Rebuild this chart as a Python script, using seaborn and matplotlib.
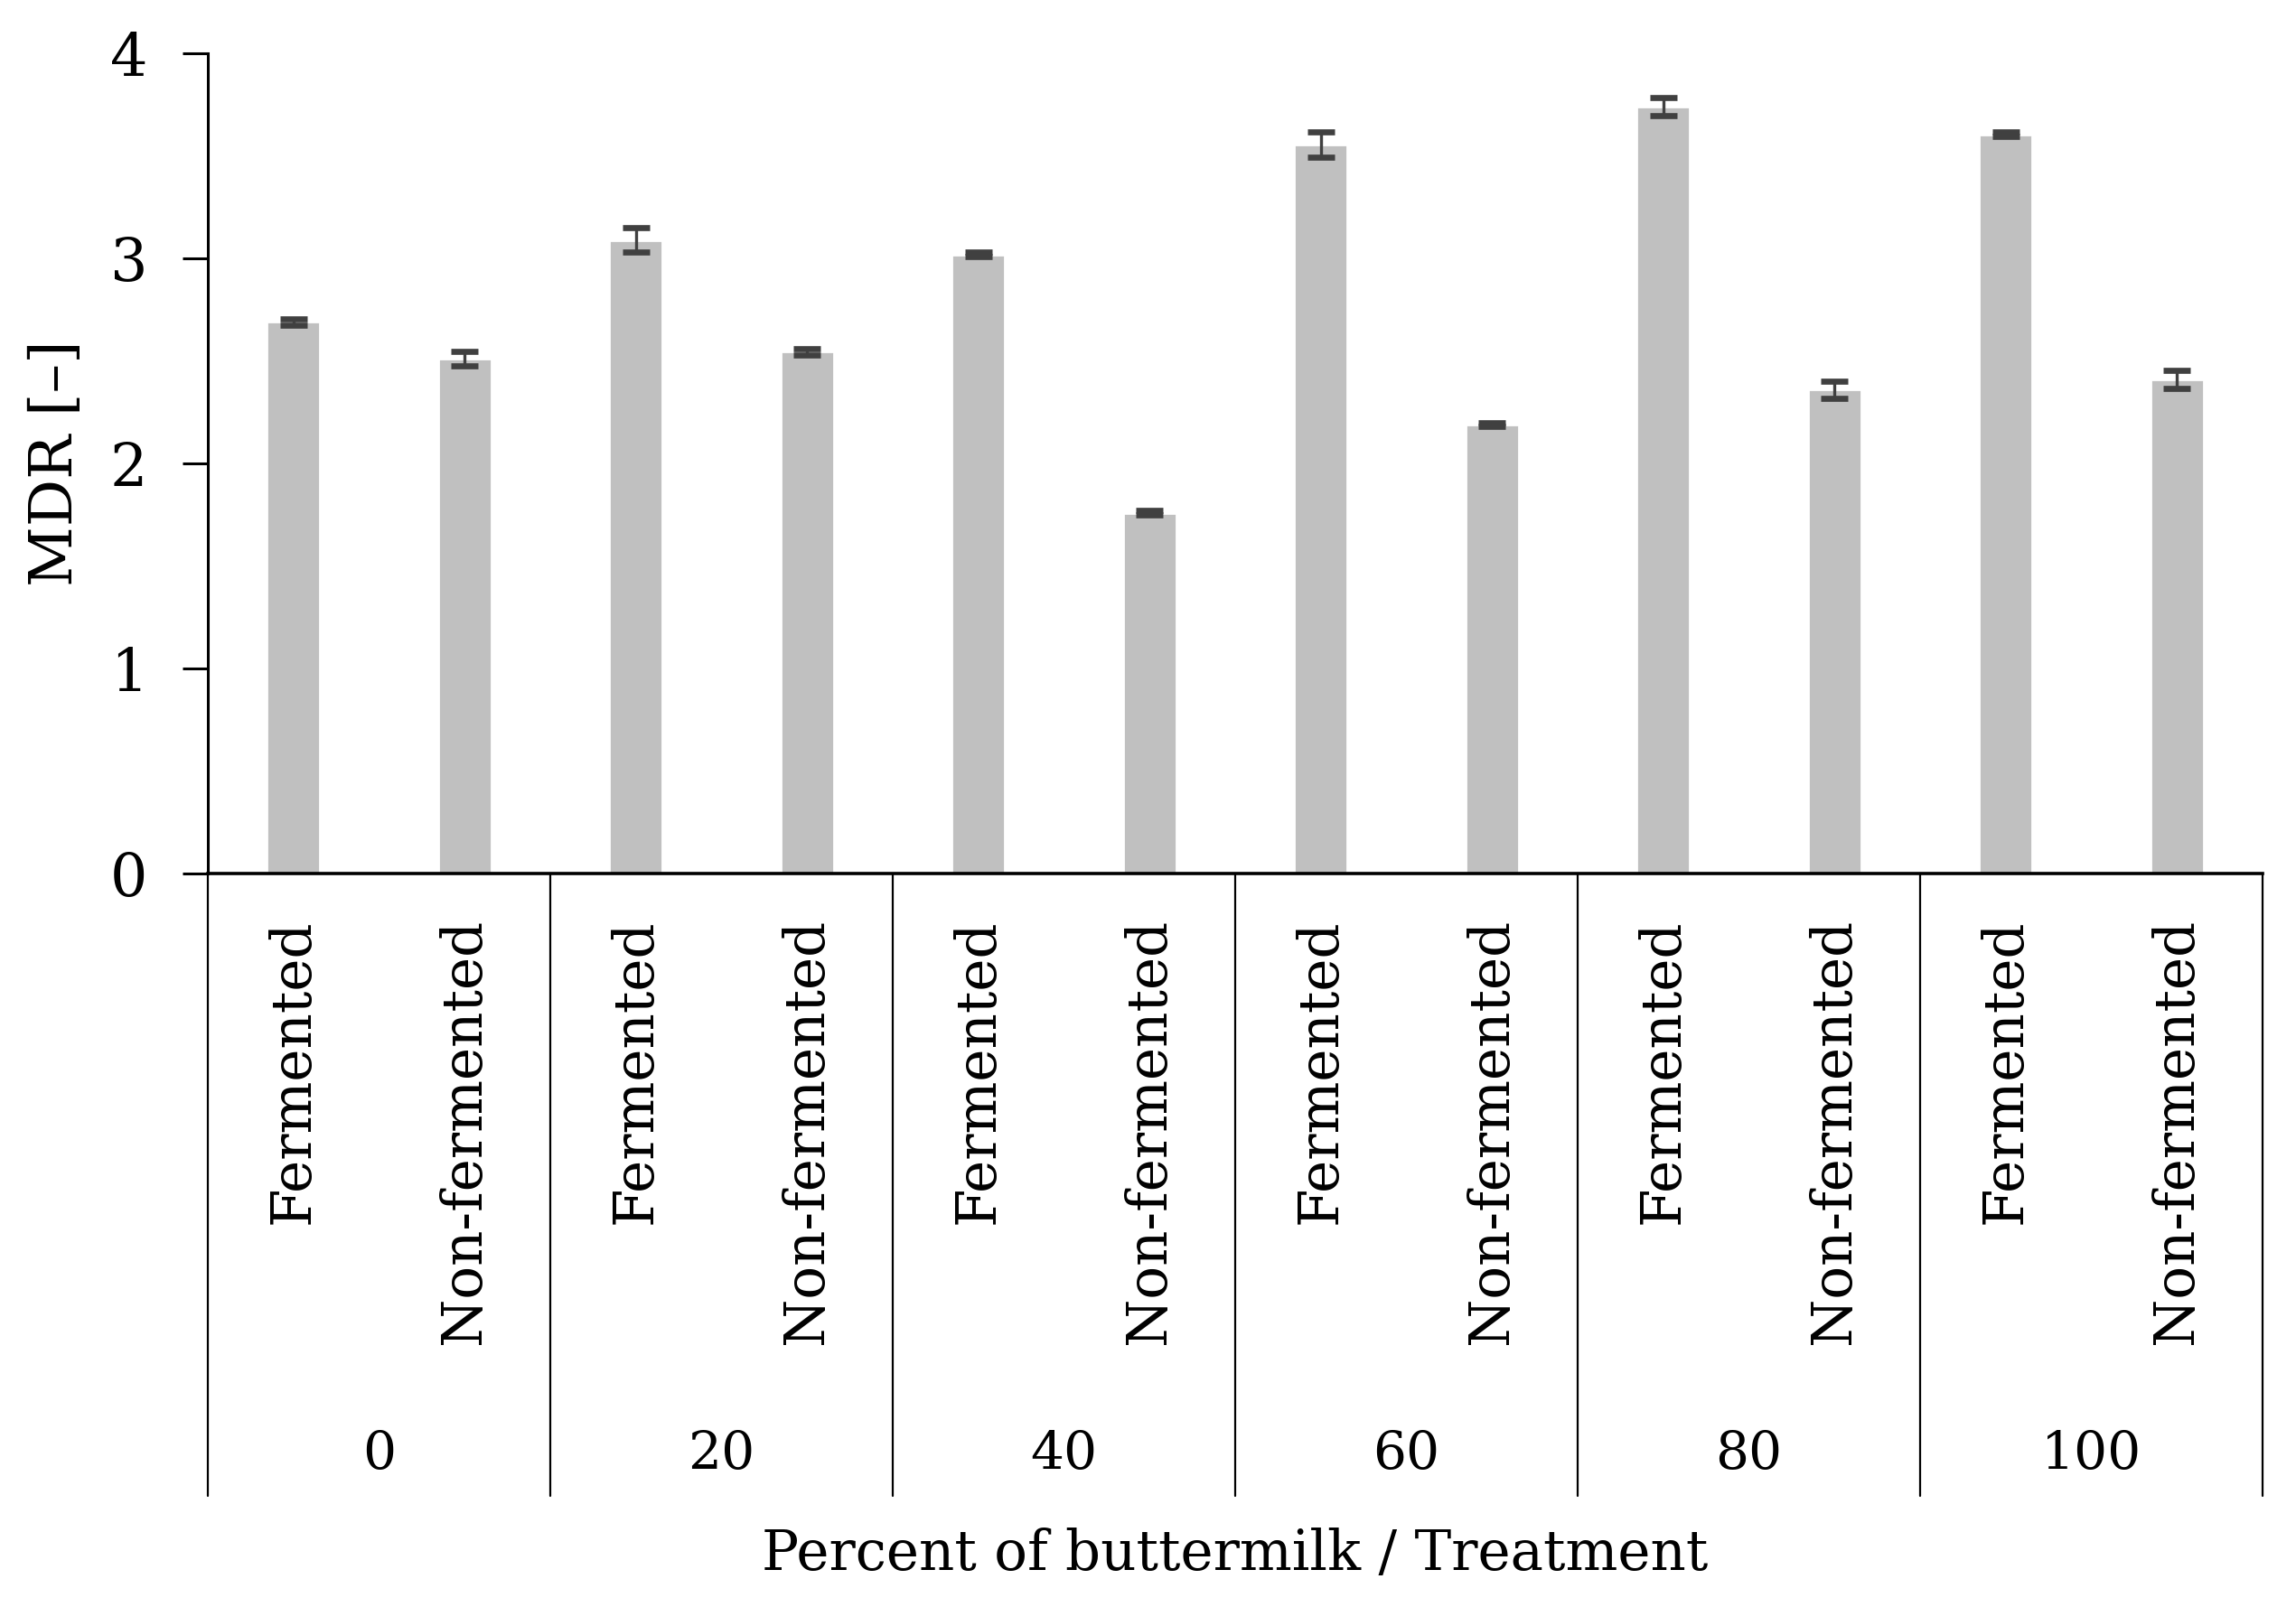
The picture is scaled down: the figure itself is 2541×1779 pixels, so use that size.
import numpy as np
import pandas as pd
import matplotlib
matplotlib.use("Agg")
import matplotlib.pyplot as plt
import matplotlib.transforms as mtransforms
import seaborn as sns

# values
percent = ["0", "20", "40", "60", "80", "100"]
treatment = ["Fermented", "Non-fermented"]
mdr_fermented = [2.69, 3.09, 3.02, 3.555, 3.74, 3.605]
mdr_nonfermented = [2.51, 2.545, 1.76, 2.19, 2.36, 2.41]
err_fermented = [0.015, 0.06, 0.01, 0.06, 0.043, 0.01]
err_nonfermented = [0.035, 0.015, 0.01, 0.01, 0.043, 0.042]

rows = []
for i, p in enumerate(percent):
    rows.append((f"{p}|{treatment[0]}", p, treatment[0], mdr_fermented[i], err_fermented[i]))
    rows.append((f"{p}|{treatment[1]}", p, treatment[1], mdr_nonfermented[i], err_nonfermented[i]))
df = pd.DataFrame(rows, columns=["key", "percent", "treatment", "mdr", "err"])

sns.set_theme(style="white")
plt.rcParams["font.family"] = ["DejaVu Serif"]
plt.rcParams["text.color"] = "black"
plt.rcParams["axes.labelcolor"] = "black"
plt.rcParams["xtick.color"] = "black"
plt.rcParams["ytick.color"] = "black"

fig = plt.figure(figsize=(2541 / 200, 1779 / 200), dpi=200)
ax = fig.add_axes([0.0905, 0.4564, 0.8949, 0.5104])

sns.barplot(data=df, x="key", y="mdr", order=df["key"], color="#c0c0c0",
            saturation=1, width=0.31, errorbar=None, ax=ax)

# error bars at the bar centres
xs = [p.get_x() + p.get_width() / 2 for p in ax.patches]
ax.errorbar(xs, df["mdr"], yerr=df["err"], fmt="none", ecolor="#404040",
            elinewidth=1.2, capsize=5.5, capthick=2.4, zorder=3)

ax.set_ylim(0, 4)
ax.set_yticks([0, 1, 2, 3, 4])
ax.set_xlim(-0.5, len(df) - 0.5)
ax.tick_params(axis="y", direction="out", length=10, width=1.1, pad=14,
               color="black", labelsize=23.5, left=True)
ax.tick_params(axis="x", length=0, pad=18, labelsize=22)
ax.set_xticks(range(len(df)))
ax.set_xticklabels(df["treatment"], rotation=90, va="top", ha="center")

for s in ["top", "right"]:
    ax.spines[s].set_visible(False)
ax.spines["left"].set_color("black")
ax.spines["left"].set_linewidth(1.1)
ax.spines["bottom"].set_color("black")
ax.spines["bottom"].set_linewidth(1.3)

# hierarchical group axis below the treatment labels
trans = mtransforms.blended_transform_factory(ax.transData, ax.transAxes)
n_groups = len(percent)
for g in range(n_groups + 1):
    xb = 2 * g - 0.5
    ax.plot([xb, xb], [0, -0.759], transform=trans, color="black",
            lw=0.8, clip_on=False)
for g, p in enumerate(percent):
    ax.text(2 * g + 0.5, -0.708, p, transform=trans, ha="center",
            va="center", fontsize=21)

ax.set_ylabel("MDR [–]", fontsize=23.5)
ax.yaxis.set_label_coords(-0.074, 0.5)
ax.yaxis.label.set_va("center")
ax.set_xlabel("Percent of buttermilk / Treatment", fontsize=22)
ax.xaxis.set_label_coords(0.5, -0.83)
ax.xaxis.label.set_va("center")

fig.savefig("out.png", dpi=200, facecolor="white")
